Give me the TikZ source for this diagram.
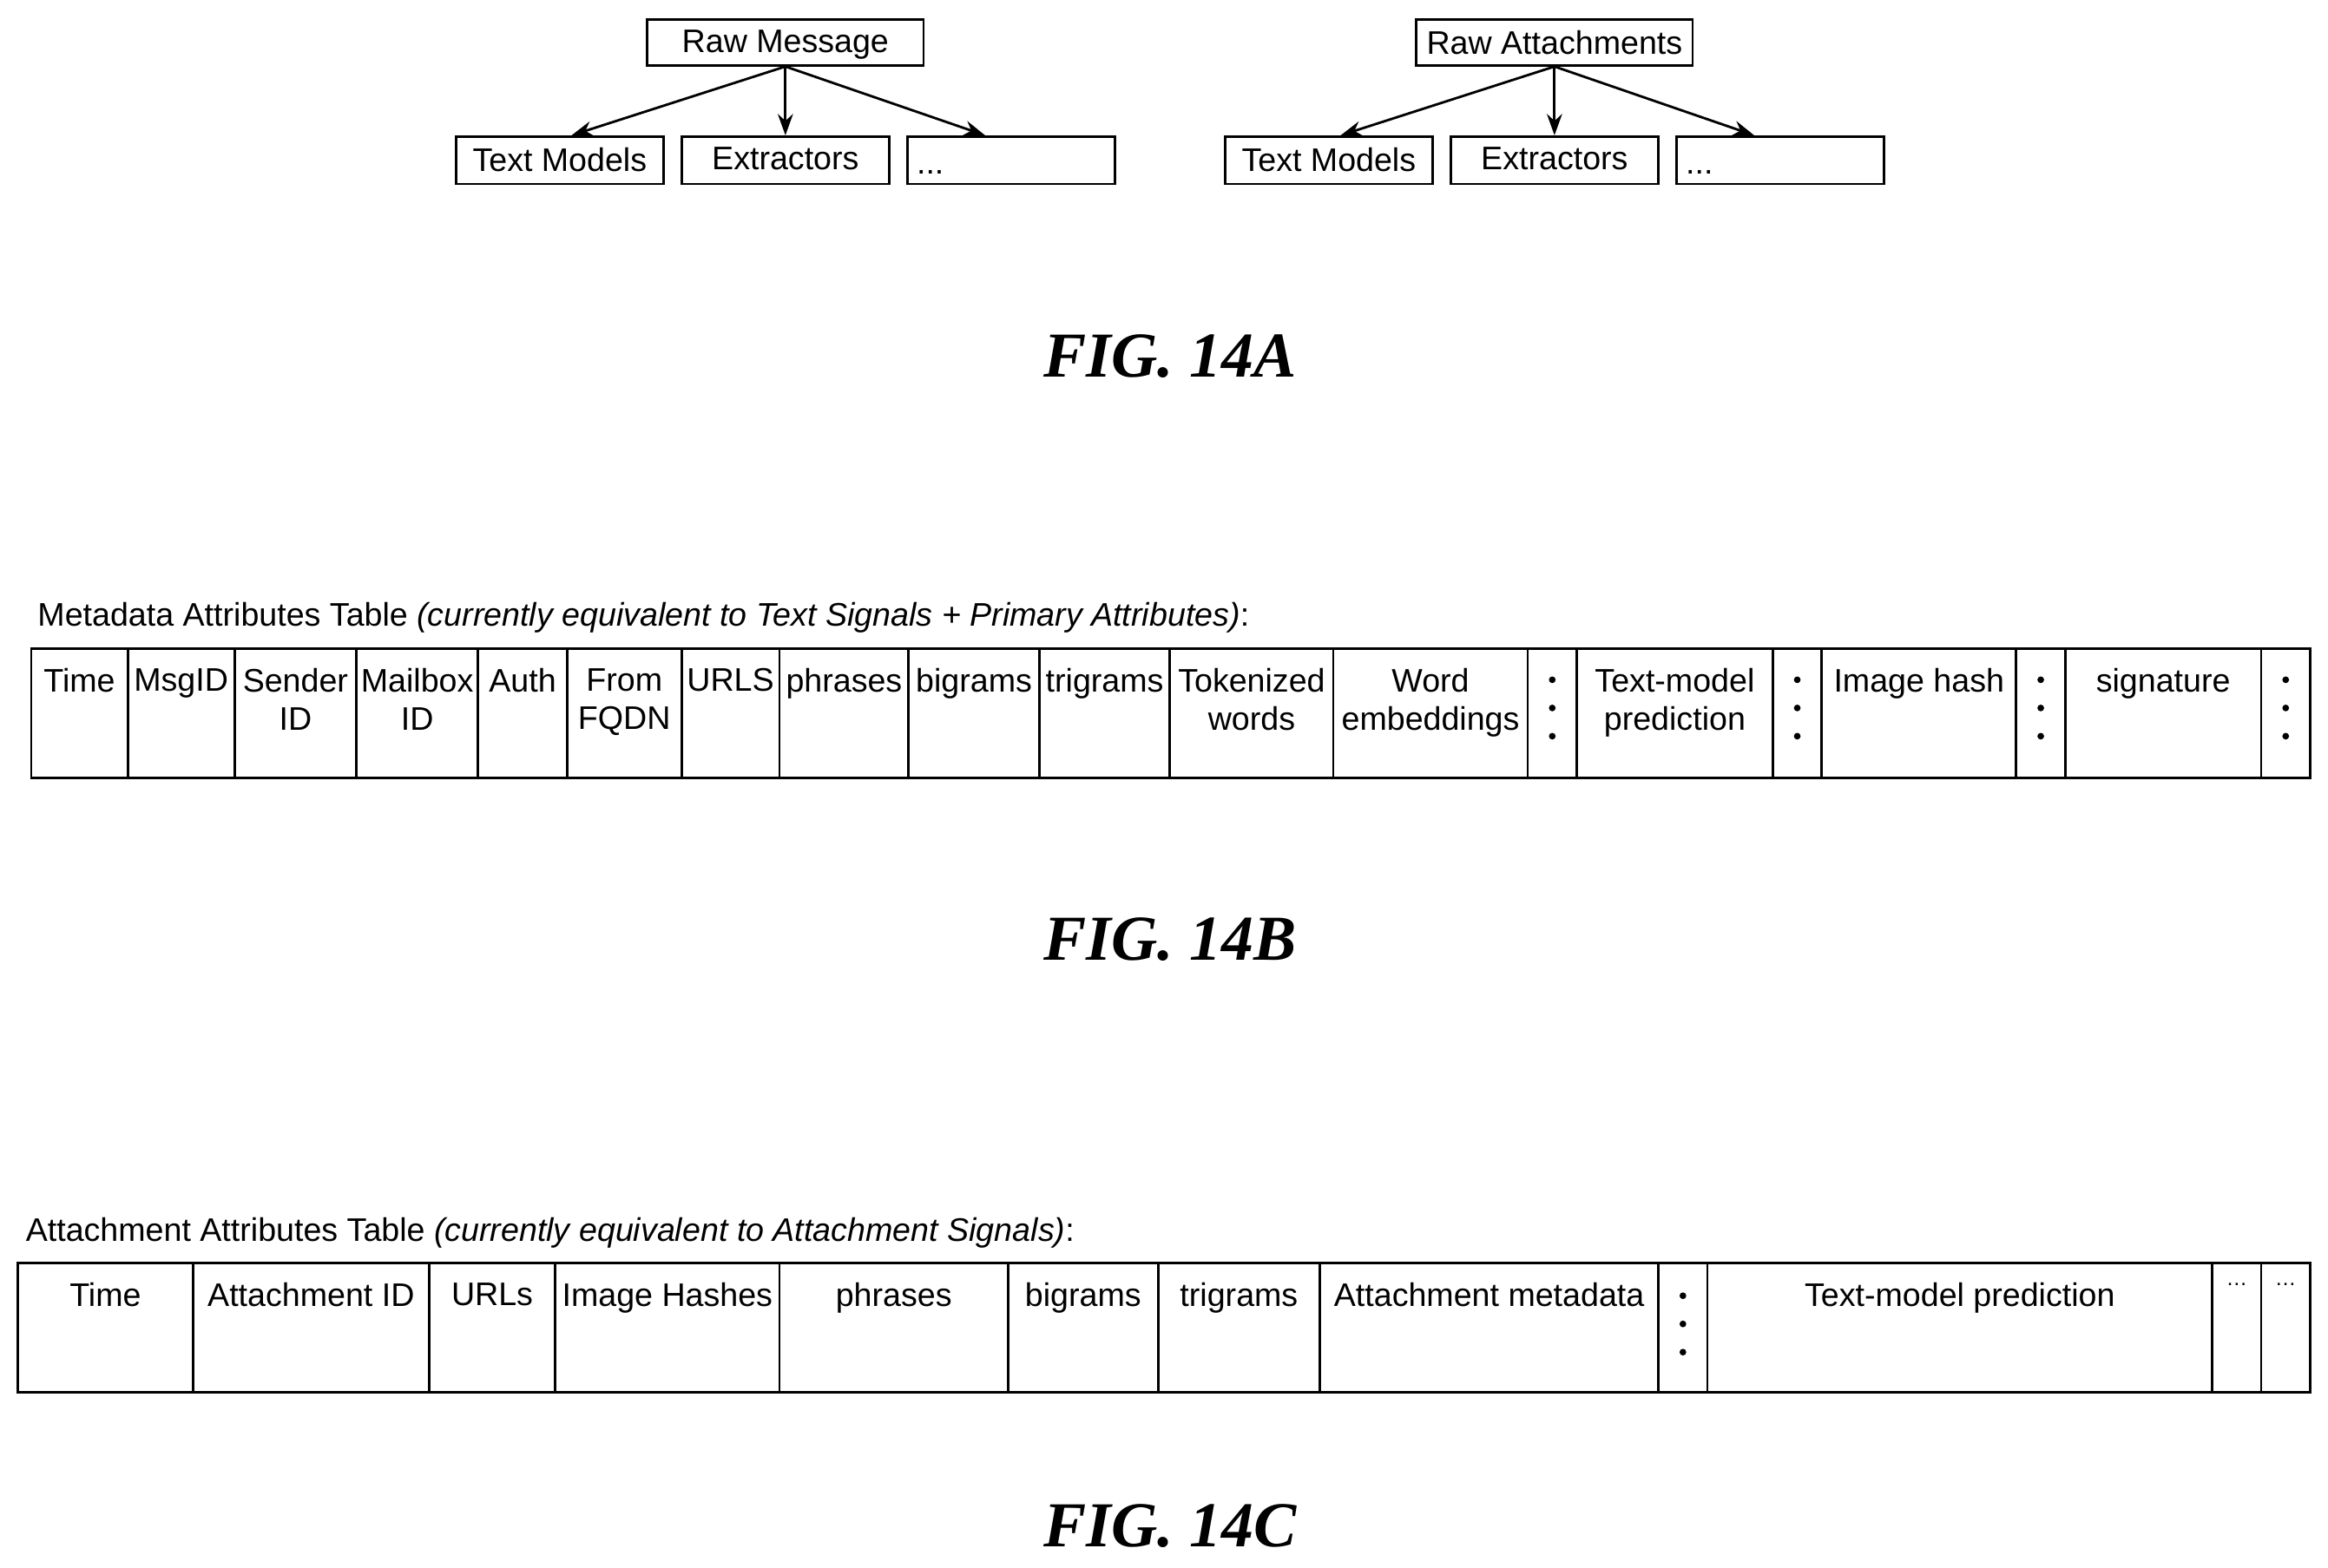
\documentclass[tikz,border=0pt]{standalone}
\usepackage{fontspec}
\setmainfont{Liberation Sans}
\newfontfamily\figfont{Liberation Serif}
\usetikzlibrary{positioning,arrows.meta}
\begin{document}
\begin{tikzpicture}[x=0.017105cm,y=-0.017105cm,
  box/.style={draw, thick, inner sep=0pt},
  lbl/.style={font=\fontsize{10.7}{12.5}\selectfont, align=center, anchor=north, inner sep=0pt},
  figlbl/.style={font=\figfont\fontsize{21}{24}\selectfont\bfseries\itshape},
  vdots/.style={fill, circle, inner sep=0pt, minimum size=2.2pt},
  >={Stealth[length=7pt,width=5pt]}]
\useasboundingbox (0,0) rectangle (1568,1056);
% FIG. 14A
\foreach \c/\x/\top in {msg/529/Raw Message, att/1047/Raw Attachments}{
  \node[box, minimum width=186*0.017105cm, minimum height=31*0.017105cm] (\c) at (\x,28.5) {};
  \node[lbl] at (\x,20) {\top};
  \node[box, minimum width=140*0.017105cm, minimum height=32*0.017105cm] (\c tm) at (\x-152,108) {};
  \node[lbl] at (\x-152,99) {Text Models};
  \node[box, minimum width=140*0.017105cm, minimum height=32*0.017105cm] (\c ex) at (\x,108) {};
  \node[lbl] at (\x,99) {Extractors};
  \node[box, minimum width=140*0.017105cm, minimum height=32*0.017105cm] (\c more) at (\x+152,108) {};
  \node[lbl, anchor=base west] at (\x+88,117) {{...}};
  \draw[thick,->] (\c.south) -- ([xshift=8*0.017105cm]\c tm.north);
  \draw[thick,->] (\c.south) -- (\c ex.north);
  \draw[thick,->] (\c.south) -- ([xshift=-0.3cm]\c more.north);
}
\node[figlbl] (figA) at (788,240) {FIG. 14A};
% FIG. 14B
\node[lbl, anchor=south west] (titleB) at (25,427) {Metadata Attributes Table \textit{(currently equivalent to Text Signals + Primary Attributes)}:};
\foreach \a/\b/\t [count=\i] in {21/86/Time, 86/158/MsgID, 158/240/Sender\\ID, 240/322/Mailbox\\ID, 322/382/Auth,
  382/459/From\\FQDN, 459/525/URLS, 525/612/phrases, 612/700/bigrams, 700/788/trigrams, 788/898/Tokenized\\words,
  898/1029/Word\\embeddings, 1029/1062/{}, 1062/1194/Text-model\\prediction, 1194/1227/{},
  1227/1358/Image hash, 1358/1391/{}, 1391/1523/signature, 1523/1556/{}}{
  \draw[thick] (\a,437) rectangle (\b,524);
  \node[lbl] (b\i) at ({(\a+\b)/2},450) {\t};
}
\foreach \x in {1045.5,1210.5,1374.5,1539.5}
  \foreach \y in {458,477,496}
    \node[vdots] at (\x,\y) {};
\node[figlbl] (figB) at (788,633) {FIG. 14B};
% FIG. 14C
\node[lbl, anchor=south west] (titleC) at (17,841) {Attachment Attributes Table \textit{(currently equivalent to Attachment Signals)}:};
\foreach \a/\b/\t [count=\i] in {12/130/Time, 130/289/Attachment ID, 289/374/URLs, 374/525/Image Hashes, 525/679/phrases,
  679/780/bigrams, 780/889/trigrams, 889/1117/Attachment metadata, 1117/1150/{},
  1150/1490/Text-model prediction, 1490/1523/{\scriptsize\dots}, 1523/1556/{\scriptsize\dots}}{
  \draw[thick] (\a,851) rectangle (\b,938);
  \node[lbl] (c\i) at ({(\a+\b)/2},864) {\t};
}
\foreach \y in {873,892,911}
  \node[vdots] at (1133.5,\y) {};
\node[figlbl] (figC) at (788,1028) {FIG. 14C};
\end{tikzpicture}
\end{document}
